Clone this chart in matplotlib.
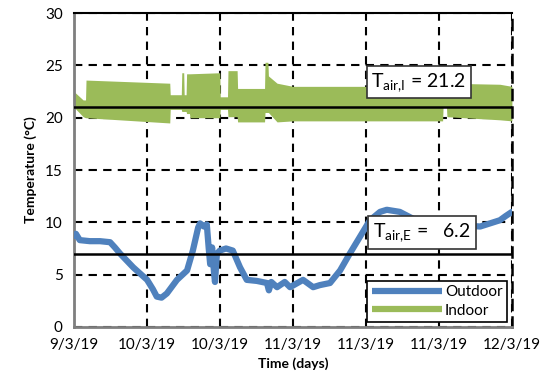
import numpy as np
import matplotlib.pyplot as plt
from matplotlib.lines import Line2D

plt.rcParams['font.family'] = ['Lato', 'DejaVu Sans']

# outdoor air temperature (days since 9/3/19, degC)
out_days = [0, 0.4, 1.2, 3.3, 5.4, 7.5, 8.5, 9.6, 12.3, 15.2, 16.4, 17.2, 18.2, 19.3,
            21.4, 23.5, 24.7, 25.8, 26.2, 27.0, 27.6, 28.0, 28.3, 28.7, 29.1, 29.3,
            29.7, 30.3, 31.6, 33.0, 34.5, 35.9, 38.0, 40.1, 40.5, 41.0, 42.2, 43.8,
            44.9, 47.6, 49.7, 51.1, 53.2, 55.3, 57.3, 59.4, 61.5, 63.6, 65.0, 67.7,
            71.9, 78.0, 84.4, 88.5, 89.7, 91.0]
out_temp = [8.7, 8.9, 8.3, 8.2, 8.2, 8.1, 7.6, 7.0, 5.7, 4.5, 3.6, 2.9, 2.8, 3.2,
            4.5, 5.4, 7.3, 9.5, 9.9, 9.6, 9.8, 7.5, 6.0, 7.6, 5.2, 4.3,
            7.0, 7.3, 7.5, 7.3, 5.7, 4.5, 4.4, 4.2, 3.5, 4.3, 3.8, 4.3,
            3.8, 4.5, 3.8, 4.0, 4.2, 5.4, 7.0, 8.6, 10.2, 11.0, 11.2, 11.0,
            10.0, 9.8, 9.6, 10.2, 10.6, 11.0]

# indoor air temperature: envelope of the daily swing (days, low, high)
in_days = [0, 1.9, 2.4, 2.5, 19.9, 20.0, 22.3, 22.4, 22.8, 22.9, 23.3, 23.4, 24.0,
           24.1, 30.3, 30.4, 31.9, 32.0, 33.9, 34.0, 39.6, 39.7, 40.3, 40.4, 42.2,
           45.5, 59.4, 76.6, 76.7, 77.4, 77.5, 88.5, 91.0]
in_low = [21.0, 20.1, 20.0, 20.0, 19.5, 20.8, 20.8, 20.6, 20.6, 20.6, 20.6, 20.4, 20.4,
          20.0, 20.0, 20.8, 20.8, 20.1, 20.1, 19.6, 19.6, 20.5, 20.5, 20.5, 19.6,
          19.7, 19.7, 19.7, 21.0, 21.0, 20.1, 19.8, 19.7]
in_high = [22.5, 21.7, 21.7, 23.6, 23.3, 22.2, 22.2, 24.3, 24.3, 22.2, 22.2, 24.2, 24.2,
           24.2, 24.3, 22.0, 22.0, 24.5, 24.5, 22.8, 22.8, 25.3, 25.3, 24.0, 23.3,
           23.0, 23.0, 23.0, 22.5, 22.5, 23.3, 23.2, 23.0]

mean_in_y, mean_in_label = 21.0, '21.2'
mean_out_y, mean_out_label = 7.0, '6.2'

tick_days = np.linspace(0, 91, 7)
tick_labels = ['9/3/19', '10/3/19', '10/3/19', '11/3/19', '11/3/19', '11/3/19', '12/3/19']

blue = '#4f81bd'
green = '#9bbb59'

fig = plt.figure(figsize=(5.44, 3.86), dpi=100)
ax = fig.add_axes([0.136, 0.153, 0.805, 0.813])

ax.fill_between(in_days, in_low, in_high, color=green, lw=0, zorder=2)
ax.plot(out_days, out_temp, color=blue, lw=4.5, solid_capstyle='round',
        solid_joinstyle='round', zorder=3)

ax.axhline(mean_in_y, color='black', lw=1.8, zorder=4)
ax.axhline(mean_out_y, color='black', lw=1.8, zorder=4)

ax.set_xlim(0, 91)
ax.set_ylim(0, 30)
ax.set_xticks(tick_days)
ax.set_xticklabels(tick_labels)
ax.set_yticks(range(0, 31, 5))
ax.tick_params(length=0, labelsize=11, pad=8)

ax.grid(True, color='black', linestyle=(0, (4, 3)), lw=1.5, zorder=1)
ax.set_axisbelow(True)

for side in ['left', 'bottom']:
    ax.spines[side].set_color('#7f7f7f')
    ax.spines[side].set_linewidth(2)
ax.spines['top'].set_linewidth(1.5)
ax.spines['right'].set_linestyle((0, (4, 3)))
ax.spines['right'].set_linewidth(1.8)

ax.set_xlabel('Time (days)', fontsize=10, fontweight='bold', labelpad=4)
ax.set_ylabel('Temperature (°C)', fontsize=10, fontweight='bold', labelpad=6)

box = dict(boxstyle='square,pad=0.25', fc='white', ec='#333333', lw=1.2)
ax.text(61.8, 23.4, r'T$_{\mathregular{air{,}I}}$ = ' + mean_in_label, fontsize=14,
        va='center', ha='left', bbox=box, zorder=6)
ax.text(62.2, 9.05, r'T$_{\mathregular{air{,}E}}$ =   ' + mean_out_label, fontsize=14,
        va='center', ha='left', bbox=box, zorder=6)

handles = [Line2D([], [], color=blue, lw=4.5, solid_capstyle='butt'),
           Line2D([], [], color=green, lw=4.5, solid_capstyle='butt')]
leg = ax.legend(handles, ['Outdoor', 'Indoor'], loc='lower right', fontsize=11,
                fancybox=False, framealpha=1, edgecolor='black', handlelength=4.6,
                handletextpad=0.2, borderaxespad=0.3, borderpad=0.3, labelspacing=0.3)
leg.get_frame().set_linewidth(1.2)
leg.set_zorder(7)

fig.savefig('out.png', dpi=100)
